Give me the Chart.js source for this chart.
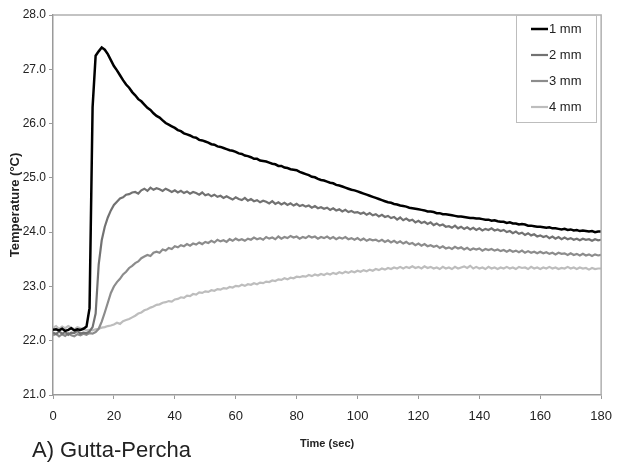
<!DOCTYPE html>
<html>
<head>
<meta charset="utf-8">
<script src="https://cdn.jsdelivr.net/npm/chart.js@4.4.1/dist/chart.umd.min.js"></script>
<style>
   html, body { margin: 0; padding: 0; background: #fff; }
   canvas { display: block; }
</style>
</head>
<body>
<canvas id="chart" width="622" height="463"></canvas>
<script>
// sample times, one reading per second
const timeSec = Array.from({ length: 181 }, (_, i) => i);

const seriesLabels = ["1 mm", "2 mm", "3 mm", "4 mm"];
const yTicks = [21, 22, 23, 24, 25, 26, 27, 28];
const xTicks = [0, 20, 40, 60, 80, 100, 120, 140, 160, 180];
const panelLabel = "A) Gutta-Percha";

// temperatures (°C)
const temp1mm = [
   22.20, 22.21, 22.19, 22.22, 22.18, 22.20, 22.23, 22.19, 22.21, 22.20,
   22.22, 22.26, 22.60, 26.30, 27.25, 27.33, 27.40, 27.36, 27.28, 27.17,
   27.06, 26.98, 26.89, 26.80, 26.72, 26.66, 26.58, 26.52, 26.45, 26.41,
   26.35, 26.29, 26.25, 26.19, 26.14, 26.11, 26.06, 26.01, 25.98, 25.95,
   25.92, 25.88, 25.86, 25.82, 25.80, 25.78, 25.75, 25.74, 25.70, 25.69,
   25.67, 25.65, 25.62, 25.61, 25.58, 25.57, 25.55, 25.53, 25.51, 25.50,
   25.48, 25.45, 25.44, 25.41, 25.40, 25.38, 25.35, 25.35, 25.32, 25.31,
   25.30, 25.28, 25.26, 25.25, 25.22, 25.22, 25.19, 25.18, 25.16, 25.15,
   25.14, 25.11, 25.09, 25.07, 25.05, 25.02, 25.01, 24.98, 24.96, 24.95,
   24.93, 24.91, 24.90, 24.87, 24.86, 24.84, 24.82, 24.80, 24.78, 24.77,
   24.75, 24.73, 24.71, 24.69, 24.67, 24.65, 24.63, 24.61, 24.59, 24.57,
   24.55, 24.54, 24.52, 24.51, 24.49, 24.48, 24.47, 24.45, 24.44, 24.43,
   24.42, 24.41, 24.40, 24.38, 24.38, 24.37, 24.35, 24.35, 24.33, 24.33,
   24.32, 24.31, 24.30, 24.29, 24.29, 24.28, 24.27, 24.26, 24.26, 24.25,
   24.25, 24.24, 24.23, 24.23, 24.21, 24.22, 24.20, 24.19, 24.19, 24.17,
   24.18, 24.16, 24.16, 24.14, 24.15, 24.14, 24.12, 24.12, 24.11, 24.10,
   24.10, 24.09, 24.08, 24.09, 24.07, 24.07, 24.06, 24.05, 24.06, 24.04,
   24.05, 24.03, 24.04, 24.02, 24.03, 24.02, 24.01, 24.02, 24.00, 24.01,
   24.01
];

const temp2mm = [
   22.15, 22.12, 22.17, 22.13, 22.16, 22.11, 22.15, 22.14, 22.18, 22.13,
   22.15, 22.14, 22.17, 22.25, 22.50, 23.40, 23.85, 24.10, 24.27, 24.40,
   24.50, 24.56, 24.62, 24.64, 24.69, 24.70, 24.73, 24.74, 24.71, 24.77,
   24.80, 24.76, 24.82, 24.78, 24.81, 24.79, 24.76, 24.80, 24.77, 24.74,
   24.77, 24.73, 24.76, 24.72, 24.75, 24.71, 24.74, 24.72, 24.69, 24.73,
   24.68, 24.70, 24.66, 24.69, 24.65, 24.67, 24.63, 24.66, 24.63, 24.60,
   24.64, 24.61, 24.59, 24.63, 24.58, 24.61, 24.57, 24.59, 24.55, 24.58,
   24.56, 24.53, 24.57, 24.52, 24.55, 24.51, 24.54, 24.50, 24.53, 24.49,
   24.52, 24.48, 24.50, 24.47, 24.49, 24.45, 24.48, 24.44, 24.46, 24.43,
   24.45, 24.41, 24.44, 24.40, 24.42, 24.38, 24.41, 24.37, 24.39, 24.36,
   24.37, 24.34, 24.36, 24.32, 24.35, 24.31, 24.33, 24.29, 24.32, 24.28,
   24.30, 24.26, 24.28, 24.23, 24.27, 24.22, 24.25, 24.21, 24.23, 24.18,
   24.21, 24.17, 24.19, 24.15, 24.18, 24.13, 24.16, 24.12, 24.14, 24.10,
   24.11, 24.08, 24.12, 24.07, 24.10, 24.06, 24.09, 24.05, 24.08, 24.04,
   24.07, 24.03, 24.06, 24.04, 24.07, 24.03, 24.05, 24.02, 24.04, 24.00,
   24.02, 23.98, 24.01, 23.97, 23.99, 23.95, 23.98, 23.94, 23.96, 23.92,
   23.94, 23.91, 23.93, 23.89, 23.92, 23.88, 23.91, 23.87, 23.90, 23.87,
   23.89, 23.86, 23.88, 23.85, 23.88, 23.86, 23.87, 23.84, 23.87, 23.85,
   23.86
];

const temp3mm = [
   22.10, 22.13, 22.08, 22.12, 22.09, 22.14, 22.10, 22.08, 22.12, 22.10,
   22.13, 22.11, 22.14, 22.13, 22.16, 22.22, 22.35, 22.52, 22.70, 22.88,
   23.00, 23.08, 23.14, 23.22, 23.27, 23.34, 23.38, 23.43, 23.46, 23.52,
   23.55, 23.58, 23.56, 23.62, 23.64, 23.62, 23.68, 23.66, 23.71, 23.69,
   23.74, 23.72, 23.76, 23.74, 23.78, 23.75, 23.79, 23.77, 23.81, 23.78,
   23.82, 23.80, 23.84, 23.81, 23.86, 23.83, 23.85, 23.82, 23.87, 23.84,
   23.88, 23.85, 23.87, 23.84, 23.88, 23.86, 23.90, 23.87, 23.89, 23.86,
   23.91, 23.88, 23.90, 23.87, 23.92, 23.88, 23.91, 23.89, 23.93, 23.90,
   23.92, 23.88, 23.91, 23.89, 23.93, 23.90, 23.92, 23.88, 23.91, 23.89,
   23.92, 23.88, 23.91, 23.87, 23.90, 23.88, 23.91, 23.87, 23.89, 23.86,
   23.89, 23.85, 23.88, 23.84, 23.87, 23.85, 23.86, 23.83, 23.86, 23.82,
   23.85, 23.81, 23.84, 23.80, 23.83, 23.79, 23.82, 23.78, 23.80, 23.76,
   23.79, 23.75, 23.78, 23.74, 23.76, 23.73, 23.75, 23.71, 23.74, 23.70,
   23.72, 23.69, 23.73, 23.70, 23.72, 23.68, 23.71, 23.67, 23.70, 23.68,
   23.70, 23.66, 23.69, 23.67, 23.69, 23.66, 23.68, 23.65, 23.67, 23.64,
   23.67, 23.64, 23.66, 23.63, 23.66, 23.62, 23.65, 23.62, 23.64, 23.61,
   23.64, 23.61, 23.63, 23.60, 23.62, 23.59, 23.62, 23.60, 23.61, 23.58,
   23.61, 23.58, 23.60, 23.57, 23.60, 23.57, 23.59, 23.56, 23.59, 23.57,
   23.58
];

const temp4mm = [
   22.24, 22.27, 22.22, 22.26, 22.23, 22.27, 22.24, 22.21, 22.25, 22.23,
   22.22, 22.19, 22.20, 22.19, 22.21, 22.22, 22.24, 22.25, 22.27, 22.28,
   22.30, 22.33, 22.31, 22.36, 22.38, 22.40, 22.43, 22.46, 22.50, 22.52,
   22.56, 22.58, 22.61, 22.63, 22.66, 22.67, 22.70, 22.71, 22.73, 22.72,
   22.76, 22.77, 22.80, 22.79, 22.83, 22.82, 22.86, 22.85, 22.89, 22.88,
   22.91, 22.90, 22.93, 22.92, 22.95, 22.94, 22.97, 22.96, 22.99, 22.98,
   23.01, 23.00, 23.03, 23.01, 23.04, 23.03, 23.06, 23.04, 23.07, 23.06,
   23.09, 23.08, 23.11, 23.10, 23.13, 23.12, 23.15, 23.13, 23.16, 23.15,
   23.18, 23.17, 23.19, 23.18, 23.21, 23.19, 23.22, 23.20, 23.23, 23.21,
   23.24, 23.22, 23.25, 23.23, 23.26, 23.24, 23.27, 23.25, 23.28, 23.26,
   23.29, 23.27, 23.30, 23.28, 23.31, 23.29, 23.32, 23.30, 23.33, 23.31,
   23.34, 23.32, 23.35, 23.33, 23.36, 23.33, 23.36, 23.34, 23.37, 23.34,
   23.36, 23.33, 23.37, 23.34, 23.36, 23.33, 23.35, 23.32, 23.36, 23.33,
   23.35, 23.32, 23.36, 23.33, 23.35, 23.37, 23.34, 23.38, 23.33, 23.36,
   23.33, 23.35, 23.32, 23.36, 23.33, 23.35, 23.32, 23.35, 23.33, 23.36,
   23.33, 23.35, 23.32, 23.36, 23.34, 23.35, 23.32, 23.36, 23.33, 23.35,
   23.32, 23.35, 23.33, 23.36, 23.33, 23.35, 23.32, 23.34, 23.33, 23.36,
   23.33, 23.35, 23.32, 23.35, 23.33, 23.34, 23.31, 23.34, 23.32, 23.33,
   23.33
];

const sans = "'Liberation Sans', Arial, sans-serif";
const textColor = "#222";
const axisColor = "#9a9a9a";

const toPoints = (vals) => vals.map((v, i) => ({ x: timeSec[i], y: v }));

// рамка сверху/справа + подпись панели
const framePlugin = {
   id: "frame",
   afterDraw(chart) {
      const { ctx, chartArea: a } = chart;
      ctx.save();
      ctx.strokeStyle = "#b0b0b0";
      ctx.lineWidth = 1.5;
      ctx.beginPath();
      ctx.moveTo(a.left, a.top);
      ctx.lineTo(a.right, a.top);
      ctx.lineTo(a.right, a.bottom);
      ctx.stroke();

      ctx.fillStyle = textColor;
      ctx.font = "22px " + sans;
      ctx.textAlign = "left";
      ctx.textBaseline = "alphabetic";
      ctx.fillText(panelLabel, 32, 457);
      ctx.restore();
   }
};

// легенда в рамке внутри области графика
const boxLegendPlugin = {
   id: "boxLegend",
   afterDraw(chart) {
      const { ctx } = chart;
      const left = 516, top = 15, w = 80, h = 107;
      ctx.save();
      ctx.fillStyle = "#fff";
      ctx.fillRect(left, top, w, h);
      ctx.strokeStyle = "#bdbdbd";
      ctx.lineWidth = 1;
      ctx.strokeRect(left + 0.5, top + 0.5, w, h);
      ctx.font = "13px " + sans;
      ctx.textBaseline = "middle";
      ctx.textAlign = "left";
      chart.data.datasets.forEach((ds, i) => {
         const y = top + 14 + i * 26;
         ctx.strokeStyle = ds.borderColor;
         ctx.lineWidth = ds.borderWidth;
         ctx.beginPath();
         ctx.moveTo(left + 15, y);
         ctx.lineTo(left + 32, y);
         ctx.stroke();
         ctx.fillStyle = textColor;
         ctx.fillText(ds.label, left + 33, y);
      });
      ctx.restore();
   }
};

const makeSet = (label, vals, color, width) => ({
   label: label,
   data: toPoints(vals),
   borderColor: color,
   backgroundColor: color,
   borderWidth: width,
   pointRadius: 0,
   tension: 0,
   fill: false,
});

const ctx = document.getElementById("chart").getContext("2d");
new Chart(ctx, {
   type: "line",
   data: {
      datasets: [
         makeSet(seriesLabels[0], temp1mm, "#000000", 2.5),
         makeSet(seriesLabels[1], temp2mm, "#727272", 2.2),
         makeSet(seriesLabels[2], temp3mm, "#8c8c8c", 2.2),
         makeSet(seriesLabels[3], temp4mm, "#bdbdbd", 2.2),
      ],
   },
   options: {
      responsive: false,
      animation: false,
      devicePixelRatio: 1,
      layout: { padding: { top: 15, right: 10, left: 0, bottom: 0 } },
      plugins: {
         legend: { display: false },
         tooltip: { enabled: false },
      },
      scales: {
         x: {
            type: "linear",
            min: 0,
            max: 180,
            afterFit: (s) => { s.height = 68; },
            afterBuildTicks: (s) => { s.ticks = xTicks.map((v) => ({ value: v })); },
            grid: { drawOnChartArea: false, drawTicks: true, tickLength: 4, color: axisColor },
            border: { color: axisColor, width: 1.5 },
            ticks: {
               color: textColor,
               padding: 10,
               maxRotation: 0,
               font: { size: 13, family: sans },
            },
            title: {
               display: true,
               text: "Time (sec)",
               color: textColor,
               padding: { top: 0, bottom: 12 },
               font: { size: 11, weight: "bold", family: sans },
            },
         },
         y: {
            min: 21,
            max: 28,
            afterFit: (s) => { s.width = 53; },
            afterBuildTicks: (s) => { s.ticks = yTicks.map((v) => ({ value: v })); },
            grid: { drawOnChartArea: false, drawTicks: true, tickLength: 4, color: axisColor },
            border: { color: axisColor, width: 1.5 },
            ticks: {
               color: textColor,
               padding: 3,
               font: { size: 12, family: sans },
               callback: (v) => Number(v).toFixed(1),
            },
            title: {
               display: true,
               text: "Temperature (°C)",
               color: textColor,
               padding: { top: 8, bottom: 0 },
               font: { size: 13, weight: "bold", family: sans },
            },
         },
      },
   },
   plugins: [framePlugin, boxLegendPlugin],
});
</script>
</body>
</html>
